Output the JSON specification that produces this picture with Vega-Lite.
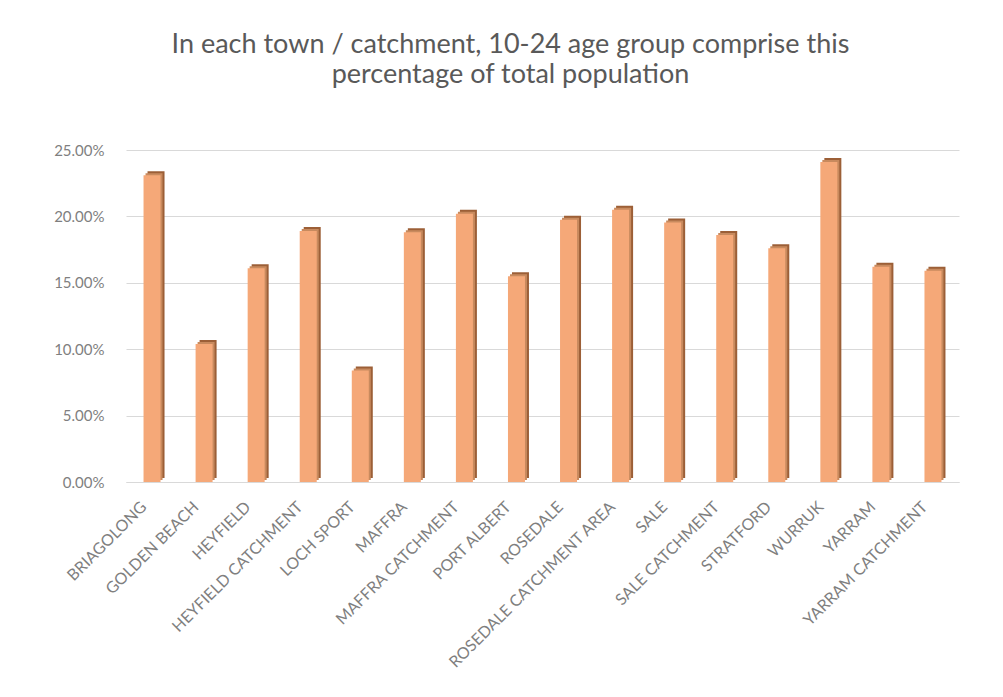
{
  "$schema": "https://vega.github.io/schema/vega-lite/v6.json",
  "autosize": {"type": "none"},
  "width": 833,
  "height": 332,
  "padding": {"left": 126, "top": 150, "right": 44, "bottom": 215},
  "background": "white",
  "title": {
    "text": ["In each town / catchment, 10-24 age group comprise this", "percentage of total population"],
    "font": "Lato",
    "fontSize": 27,
    "fontWeight": "normal",
    "color": "#595959",
    "lineHeight": 30,
    "anchor": "middle",
    "dx": -32,
    "offset": 54
  },
  "data": {
    "values": [
      {"town": "BRIAGOLONG", "pct": 0.231},
      {"town": "GOLDEN BEACH", "pct": 0.104},
      {"town": "HEYFIELD", "pct": 0.161},
      {"town": "HEYFIELD CATCHMENT", "pct": 0.189},
      {"town": "LOCH SPORT", "pct": 0.084},
      {"town": "MAFFRA", "pct": 0.188},
      {"town": "MAFFRA CATCHMENT", "pct": 0.202},
      {"town": "PORT ALBERT", "pct": 0.155},
      {"town": "ROSEDALE", "pct": 0.1975},
      {"town": "ROSEDALE CATCHMENT AREA", "pct": 0.205},
      {"town": "SALE", "pct": 0.1955},
      {"town": "SALE CATCHMENT", "pct": 0.186},
      {"town": "STRATFORD", "pct": 0.176},
      {"town": "WURRUK", "pct": 0.241},
      {"town": "YARRAM", "pct": 0.162},
      {"town": "YARRAM CATCHMENT", "pct": 0.159}
    ]
  },
  "encoding": {
    "x": {
      "field": "town",
      "type": "nominal",
      "sort": null,
      "title": null,
      "scale": {"paddingInner": 0.6, "paddingOuter": 0.3},
      "axis": {
        "labelAngle": -45,
        "labelAlign": "right",
        "labelBaseline": "middle",
        "labelPadding": 22,
        "labelOffset": -8,
        "labelFont": "Lato",
        "labelFontSize": 16,
        "labelColor": "#7f7f7f",
        "labelLimit": 400,
        "ticks": false,
        "domain": true,
        "domainColor": "#d9d9d9"
      }
    },
    "y": {
      "field": "pct",
      "type": "quantitative",
      "title": null,
      "scale": {"domain": [0, 0.25], "nice": false},
      "axis": {
        "values": [0, 0.05, 0.1, 0.15, 0.2, 0.25],
        "format": ".2%",
        "labelFont": "Lato",
        "labelFontSize": 15,
        "labelColor": "#7f7f7f",
        "labelPadding": 22,
        "ticks": false,
        "domain": false,
        "gridColor": "#d9d9d9"
      }
    }
  },
  "layer": [
    {"mark": {"type": "bar", "color": "#9c5f37", "width": 17, "xOffset": 4, "yOffset": -4}},
    {"mark": {"type": "bar", "color": "#c88a5e", "width": 17, "xOffset": 2, "yOffset": -2}},
    {"mark": {"type": "bar", "color": "#f5a878", "width": 17}}
  ],
  "config": {"view": {"stroke": null}}
}
